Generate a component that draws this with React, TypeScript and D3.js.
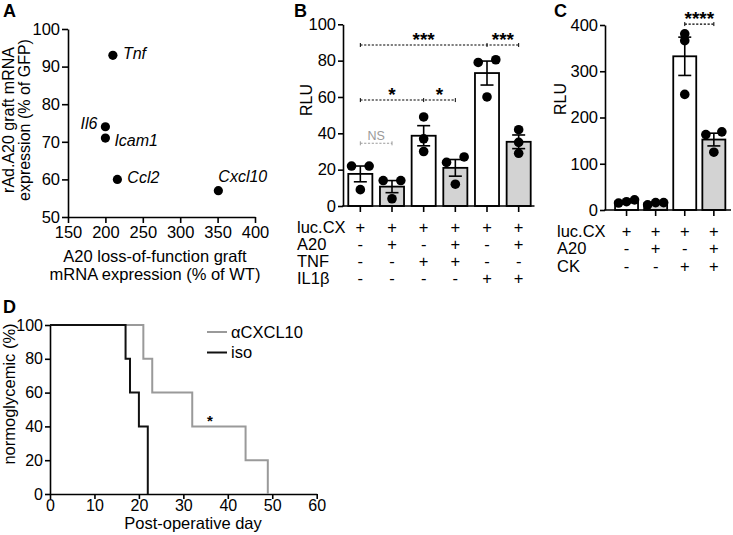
import React, { useEffect, useRef } from 'react';
import * as d3 from 'd3';

const FONT = '"Liberation Sans", Arial, Helvetica, sans-serif';

// ---------- Panel A ----------
const genes = ['Tnf', 'Il6', 'Icam1', 'Ccl2', 'Cxcl10'];
const lofExpression = [210, 200, 200, 216, 351];
const rAdExpression = [93, 74, 71, 60, 57];
const geneLabelSide = ['right', 'left', 'right-below', 'right', 'above'];
const aXTicks = [150, 200, 250, 300, 350, 400];
const aYTicks = [50, 60, 70, 80, 90, 100];

// ---------- Panel B ----------
const bGroups = ['g1', 'g2', 'g3', 'g4', 'g5', 'g6'];
const bReplicates = [
  [22, 22, 9],
  [14, 14, 4],
  [49, 37, 30],
  [24, 27, 12],
  [79, 80.5, 60],
  [42, 35, 29],
];
const bShaded = [false, true, false, true, false, true];
const bRowLabels = ['luc.CX', 'A20', 'TNF', 'IL1β'];
const bRows = [
  ['+', '+', '+', '+', '+', '+'],
  ['-', '+', '-', '+', '-', '+'],
  ['-', '-', '+', '+', '-', '-'],
  ['-', '-', '-', '-', '+', '+'],
];
const bYTicks = [0, 20, 40, 60, 80, 100];
const bSig = [
  { from: 0, to: 1, mids: [] as number[], level: 34.5, labels: ['NS'], ns: true },
  { from: 0, to: 3, mids: [2], level: 58.3, labels: ['*', '*'], ns: false },
  { from: 0, to: 5, mids: [4], level: 88.6, labels: ['***', '***'], ns: false },
];

// ---------- Panel C ----------
const cGroups = ['c1', 'c2', 'c3', 'c4'];
const cReplicates = [
  [15, 22, 18],
  [11, 16, 16],
  [381, 366, 250],
  [163, 169, 125],
];
const cShaded = [false, true, false, true];
const cRowLabels = ['luc.CX', 'A20', 'CK'];
const cRows = [
  ['+', '+', '+', '+'],
  ['-', '+', '-', '+'],
  ['-', '-', '+', '+'],
];
const cYTicks = [0, 100, 200, 300, 400];
const cSig = [{ from: 2, to: 3, mids: [] as number[], level: 402, labels: ['****'], ns: false }];

// ---------- Panel D ----------
const dGroups = ['αCXCL10', 'iso'];
const dColors = ['#9a9a9a', '#111111'];
const dDays = [
  [0, 21, 23, 32, 44, 49],
  [0, 17, 18, 20, 22],
];
const dSurvival = [
  [100, 80, 60, 40, 20, 0],
  [100, 80, 60, 40, 0],
];
const dXTicks = [0, 10, 20, 30, 40, 50, 60];
const dYTicks = [0, 20, 40, 60, 80, 100];
const dStar = { day: 36, value: 45 };

// ---------- helpers ----------
function Axis({ scale, orient, transform, tickValues, tickSize = 6, tickPadding = 3, fontSize = 16, noLabels = false, noDomain = false }: any) {
  const ref = useRef<SVGGElement>(null);
  useEffect(() => {
    const axis = (orient === 'left' ? d3.axisLeft(scale) : d3.axisBottom(scale))
      .tickSize(tickSize)
      .tickSizeOuter(0)
      .tickPadding(tickPadding);
    if (tickValues) axis.tickValues(tickValues);
    if (noLabels) axis.tickFormat(() => '');
    const g = d3.select(ref.current as SVGGElement);
    g.call(axis as any);
    g.attr('font-family', FONT).attr('font-size', fontSize);
    g.selectAll('path, line').attr('stroke', '#000').attr('stroke-width', 1.6);
    g.selectAll('text').attr('fill', '#000');
    if (noDomain) g.select('.domain').remove();
  }, []);
  return <g ref={ref} transform={transform} />;
}

function spreadOffsets(values: number[], y: (v: number) => number, halfWidth: number, threshold: number): number[] {
  const idx = values.map((_, i) => i).sort((a, b) => values[a] - values[b]);
  const offsets = new Array(values.length).fill(0);
  let cluster: number[] = [idx[0]];
  const flush = () => {
    const k = cluster.length;
    cluster.forEach((i, j) => {
      offsets[i] = k === 1 ? 0 : -halfWidth + (2 * halfWidth * j) / (k - 1);
    });
  };
  for (let n = 1; n < idx.length; n++) {
    const prev = idx[n - 1];
    const cur = idx[n];
    if (Math.abs(y(values[cur]) - y(values[prev])) < threshold) cluster.push(cur);
    else {
      flush();
      cluster = [cur];
    }
  }
  flush();
  return offsets;
}

function BarPanel({ groups, replicates, shaded, x, y, halfSpread, sig, starSize, starGap }: any) {
  const center = (i: number) => (x(groups[i]) as number) + x.bandwidth() / 2;
  return (
    <g>
      {replicates.map((vals: number[], i: number) => {
        const mean = d3.mean(vals) as number;
        const sem = (d3.deviation(vals) as number) / Math.sqrt(vals.length);
        const cx = center(i);
        const offs = spreadOffsets(vals, y, halfSpread, 6.5);
        return (
          <g key={i}>
            <rect
              x={x(groups[i])}
              y={y(mean)}
              width={x.bandwidth()}
              height={y(0) - y(mean)}
              fill={shaded[i] ? '#d3d3d3' : '#ffffff'}
              stroke="#000"
              strokeWidth={1.8}
            />
            <line x1={cx} x2={cx} y1={y(mean - sem)} y2={y(mean + sem)} stroke="#000" strokeWidth={1.6} />
            <line x1={cx - 6.5} x2={cx + 6.5} y1={y(mean + sem)} y2={y(mean + sem)} stroke="#000" strokeWidth={1.6} />
            <line x1={cx - 6.5} x2={cx + 6.5} y1={y(mean - sem)} y2={y(mean - sem)} stroke="#000" strokeWidth={1.6} />
            {vals.map((v, j) => (
              <circle key={j} cx={cx + offs[j]} cy={y(v)} r={4.8} fill="#000" />
            ))}
          </g>
        );
      })}
      {sig.map((s: any, k: number) => {
        const col = s.ns ? '#9a9a9a' : '#000';
        const yy = y(s.level);
        const pts = [s.from, ...s.mids, s.to];
        const xs = pts.map(center);
        return (
          <g key={k}>
            <line x1={xs[0]} x2={xs[xs.length - 1]} y1={yy} y2={yy} stroke={col} strokeWidth={1.1} strokeDasharray="2.2,1.6" />
            {xs.map((xx: number, m: number) => (
              <line key={m} x1={xx} x2={xx} y1={yy - 2} y2={yy + 2} stroke={col} strokeWidth={1} />
            ))}
            {s.labels.map((lab: string, m: number) => {
              const lx = (xs[m] + xs[m + 1]) / 2;
              return s.ns ? (
                <text key={m} x={lx} y={yy - 3} textAnchor="middle" fontSize={12.5} fill={col} fontFamily={FONT}>
                  {lab}
                </text>
              ) : (
                <text key={m} x={lx} y={yy - starGap} textAnchor="middle" fontSize={starSize} fontWeight="bold" fill={col} fontFamily={FONT}>
                  {lab}
                </text>
              );
            })}
          </g>
        );
      })}
    </g>
  );
}

function SignTable({ labels, rows, labelX, centers, baselines }: any) {
  return (
    <g fontFamily={FONT} fontSize={16.5} fill="#000">
      {labels.map((lab: string, r: number) => (
        <g key={r}>
          <text x={labelX} y={baselines[r]}>{lab}</text>
          {rows[r].map((s: string, i: number) => (
            <text key={i} x={centers[i]} y={baselines[r]} textAnchor="middle">
              {s}
            </text>
          ))}
        </g>
      ))}
    </g>
  );
}

export default function App() {
  // Panel A scales
  const ax = d3.scaleLinear().domain([150, 400]).range([68, 255]);
  const ay = d3.scaleLinear().domain([50, 100]).range([217, 29]);

  // Panel B scales
  const bx = d3.scaleBand().domain(bGroups).range([344.5, 534.5]).paddingInner(0.24).paddingOuter(0.12);
  const by = d3.scaleLinear().domain([0, 100]).range([206, 24.3]);
  const bCenters = bGroups.map((g) => (bx(g) as number) + bx.bandwidth() / 2);

  // Panel C scales
  const cx = d3.scaleBand().domain(cGroups).range([612, 728.4]).paddingInner(0.21).paddingOuter(0.105);
  const cy = d3.scaleLinear().domain([0, 400]).range([210, 25]);
  const cCenters = cGroups.map((g) => (cx(g) as number) + cx.bandwidth() / 2);

  // Panel D scales
  const dx = d3.scaleLinear().domain([0, 60]).range([50, 316.7]);
  const dy = d3.scaleLinear().domain([0, 100]).range([494, 325]);
  const stepLine = d3
    .line<[number, number]>()
    .x((d) => dx(d[0]))
    .y((d) => dy(d[1]))
    .curve(d3.curveStepAfter);

  const labelPos = (side: string) => {
    switch (side) {
      case 'left':
        return { dx: -8, dy: 2, anchor: 'end' };
      case 'right-below':
        return { dx: 9, dy: 8, anchor: 'start' };
      case 'above':
        return { dx: 0, dy: -9, anchor: 'start' };
      default:
        return { dx: 10, dy: 4, anchor: 'start' };
    }
  };

  return (
    <svg width={733} height={535} style={{ position: 'absolute', left: 0, top: 0, background: '#fff' }} fontFamily={FONT}>
      <rect width={733} height={535} fill="#fff" />
      {/* Panel letters */}
      <g fontFamily={FONT} fontWeight="bold" fontSize={18} fill="#000">
        <text x={3} y={17}>A</text>
        <text x={294} y={17}>B</text>
        <text x={554} y={17}>C</text>
        <text x={3} y={313}>D</text>
      </g>

      {/* ---------- Panel A ---------- */}
      <Axis scale={ax} orient="bottom" transform="translate(0,217)" tickValues={aXTicks} tickSize={6} tickPadding={3} fontSize={16.5} />
      <Axis scale={ay} orient="left" transform="translate(68,0)" tickValues={aYTicks} tickSize={6} tickPadding={2} fontSize={16.5} />
      {genes.map((g, i) => {
        const p = labelPos(geneLabelSide[i]);
        const px = ax(lofExpression[i]);
        const py = ay(rAdExpression[i]);
        return (
          <g key={g}>
            <circle cx={px} cy={py} r={4.6} fill="#000" />
            <text x={px + p.dx} y={py + p.dy} textAnchor={p.anchor as any} fontStyle="italic" fontSize={16} fontFamily={FONT}>
              {g}
            </text>
          </g>
        );
      })}
      <g fontSize={16.5} fontFamily={FONT} textAnchor="middle">
        <text x={155} y={262}>A20 loss-of-function graft</text>
        <text x={155} y={280}>mRNA expression (% of WT)</text>
        <text transform="translate(13.5,120) rotate(-90)" fontSize={16}>rAd.A20 graft mRNA</text>
        <text transform="translate(30,120) rotate(-90)" fontSize={16}>expression (% of GFP)</text>
      </g>

      {/* ---------- Panel B ---------- */}
      <Axis scale={by} orient="left" transform="translate(343,0)" tickValues={bYTicks} tickSize={5} tickPadding={2} fontSize={16.5} />
      <BarPanel groups={bGroups} replicates={bReplicates} shaded={bShaded} x={bx} y={by} halfSpread={8.8} sig={bSig} starSize={19} starGap={-1} />
      <Axis scale={bx} orient="bottom" transform="translate(0,206)" tickSize={6} noLabels noDomain />
      <line x1={342.2} x2={534.5} y1={206} y2={206} stroke="#000" strokeWidth={1.6} />
      <text transform="translate(312,100) rotate(-90)" textAnchor="middle" fontSize={16} fontFamily={FONT}>RLU</text>
      <SignTable labels={bRowLabels} rows={bRows} labelX={297} centers={bCenters} baselines={[233, 250, 267, 283.5]} />

      {/* ---------- Panel C ---------- */}
      <Axis scale={cy} orient="left" transform="translate(605,0)" tickValues={cYTicks} tickSize={5} tickPadding={2} fontSize={16.5} />
      <BarPanel groups={cGroups} replicates={cReplicates} shaded={cShaded} x={cx} y={cy} halfSpread={8} sig={cSig} starSize={19} starGap={-1} />
      <Axis scale={cx} orient="bottom" transform="translate(0,210)" tickSize={6} noLabels noDomain />
      <line x1={604.2} x2={731} y1={210} y2={210} stroke="#000" strokeWidth={1.6} />
      <text transform="translate(566,99) rotate(-90)" textAnchor="middle" fontSize={16} fontFamily={FONT}>RLU</text>
      <SignTable labels={cRowLabels} rows={cRows} labelX={557} centers={cCenters} baselines={[236.5, 254, 271.5]} />

      {/* ---------- Panel D ---------- */}
      <Axis scale={dx} orient="bottom" transform="translate(0,494)" tickValues={dXTicks} tickSize={5} tickPadding={1} fontSize={16} />
      <Axis scale={dy} orient="left" transform="translate(50,0)" tickValues={dYTicks} tickSize={5} tickPadding={2} fontSize={16} />
      {dGroups.map((g, i) => (
        <path
          key={g}
          d={stepLine(dDays[i].map((d, j) => [d, dSurvival[i][j]] as [number, number])) as string}
          fill="none"
          stroke={dColors[i]}
          strokeWidth={2}
        />
      ))}
      {dGroups.map((g, i) => (
        <g key={g}>
          <line x1={207} x2={227} y1={332 + i * 20.5} y2={332 + i * 20.5} stroke={dColors[i]} strokeWidth={2} />
          <text x={231} y={337.5 + i * 20.5} fontSize={16.5} fontFamily={FONT}>{g}</text>
        </g>
      ))}
      <text x={dx(dStar.day)} y={dy(dStar.value) + 8} textAnchor="middle" fontSize={15} fontWeight="bold" fontFamily={FONT}>*</text>
      <text x={193} y={529} textAnchor="middle" fontSize={16.5} fontFamily={FONT}>Post-operative day</text>
      <text transform="translate(15,394) rotate(-90)" textAnchor="middle" fontSize={16.5} fontFamily={FONT}>normoglycemic (%)</text>
    </svg>
  );
}
